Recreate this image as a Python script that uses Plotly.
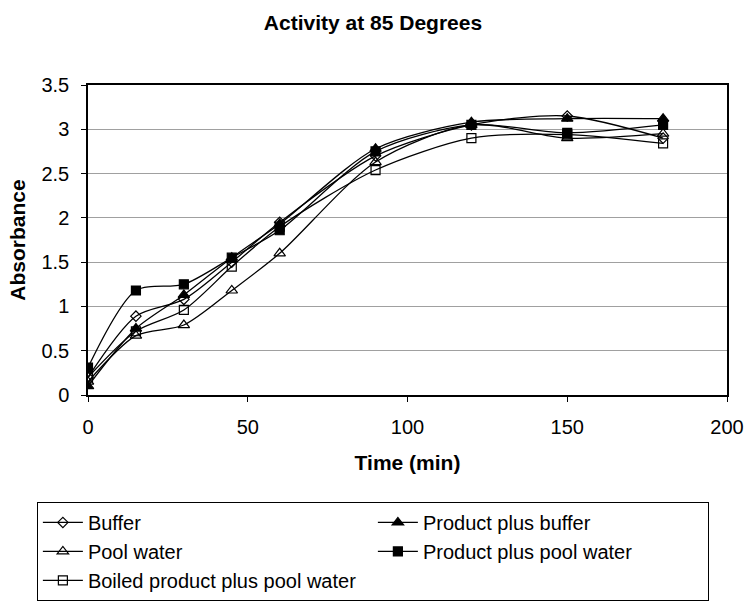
import plotly.graph_objects as go

time_min = [0, 15, 30, 45, 60, 90, 120, 150, 180]
buffer = [0.20, 0.89, 1.08, 1.50, 1.95, 2.70, 3.05, 3.15, 2.90]
product_plus_buffer = [0.10, 0.75, 1.13, 1.55, 1.93, 2.78, 3.08, 3.12, 3.12]
pool_water = [0.15, 0.67, 0.79, 1.18, 1.60, 2.63, 3.05, 2.90, 2.95]
product_plus_pool = [0.31, 1.18, 1.25, 1.55, 1.86, 2.75, 3.05, 2.96, 3.05]
boiled_plus_pool = [0.20, 0.72, 0.96, 1.45, 1.90, 2.54, 2.90, 2.94, 2.84]

series = [
    ("Buffer", buffer, "diamond-open", 8),
    ("Product plus buffer", product_plus_buffer, "triangle-up", 10),
    ("Pool water", pool_water, "triangle-up-open", 10),
    ("Product plus pool water", product_plus_pool, "square", 9),
    ("Boiled product plus pool water", boiled_plus_pool, "square-open", 9),
]

fig = go.Figure()
for name, vals, sym, size in series:
    fig.add_trace(go.Scatter(
        x=time_min, y=vals, name=name, mode="lines+markers",
        line=dict(color="black", width=1.3, shape="spline", smoothing=0.8),
        marker=dict(symbol=sym, size=size, color="black",
                    line=dict(color="black", width=1.2)),
    ))

font_family = "Liberation Sans, Arial, sans-serif"
fig.update_layout(
    width=746, height=602,
    margin=dict(l=88, r=19, t=85, b=207, autoexpand=False),
    paper_bgcolor="white", plot_bgcolor="white",
    font=dict(family=font_family, size=20, color="black"),
    title=dict(text="<b>Activity at 85 Degrees</b>", x=0.5, xanchor="center",
               y=0.962, yanchor="middle", font=dict(size=21)),
    showlegend=True,
    legend=dict(orientation="h", x=-0.08, xanchor="left", y=-0.345, yanchor="top",
                bordercolor="black", borderwidth=1, bgcolor="white",
                entrywidth=280, entrywidthmode="pixels",
                font=dict(size=20), itemwidth=40),
    xaxis=dict(range=[0, 200], tickvals=[0, 50, 100, 150, 200], automargin=False,
               showgrid=False, zeroline=False, showline=True, linecolor="black",
               linewidth=1.5, mirror=True, ticks="outside", ticklen=5,
               tickcolor="black", tickfont=dict(size=20), ticklabelstandoff=8,
               title=dict(text="<b>Time (min)</b>", font=dict(size=21), standoff=19)),
    yaxis=dict(range=[0, 3.5], dtick=0.5, automargin=False,
               showgrid=True, gridcolor="#a0a0a0",
               gridwidth=1, zeroline=False, showline=True, linecolor="black",
               linewidth=1.5, mirror=True, ticks="outside", ticklen=5,
               tickcolor="black", tickfont=dict(size=20), ticklabelstandoff=8,
               title=dict(text="<b>Absorbance</b>", font=dict(size=21), standoff=10)),
)

fig.write_html("out.html")
